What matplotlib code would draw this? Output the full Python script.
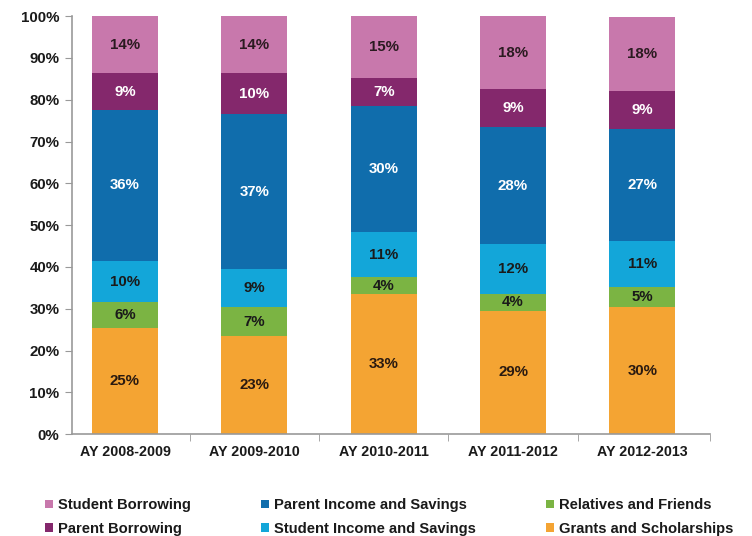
import matplotlib
matplotlib.use("Agg")
import matplotlib.pyplot as plt
from matplotlib.patches import Patch
import numpy as np

plt.rcParams['font.family'] = ['Liberation Sans', 'DejaVu Sans']

years = ["AY 2008-2009", "AY 2009-2010", "AY 2010-2011", "AY 2011-2012", "AY 2012-2013"]

# stacked from bottom to top
series_names = ["Grants and Scholarships", "Relatives and Friends", "Student Income and Savings",
                "Parent Income and Savings", "Parent Borrowing", "Student Borrowing"]
grants      = [25.5, 23.4, 33.5, 29.5, 30.3]
relatives   = [6.0, 6.9, 4.0, 4.0, 5.0]
student_inc = [10.0, 9.2, 10.9, 12.0, 10.9]
parent_inc  = [36.0, 37.0, 30.1, 27.9, 26.8]
parent_bor  = [8.9, 9.9, 6.8, 9.1, 9.0]
student_bor = [13.6, 13.6, 14.7, 17.5, 17.7]

lbl_grants      = ["25%", "23%", "33%", "29%", "30%"]
lbl_relatives   = ["6%", "7%", "4%", "4%", "5%"]
lbl_student_inc = ["10%", "9%", "11%", "12%", "11%"]
lbl_parent_inc  = ["36%", "37%", "30%", "28%", "27%"]
lbl_parent_bor  = ["9%", "10%", "7%", "9%", "9%"]
lbl_student_bor = ["14%", "14%", "15%", "18%", "18%"]

series = [grants, relatives, student_inc, parent_inc, parent_bor, student_bor]
labels = [lbl_grants, lbl_relatives, lbl_student_inc, lbl_parent_inc, lbl_parent_bor, lbl_student_bor]
colors = ["#F4A433", "#7BB443", "#13A6D9", "#106DAC", "#84286C", "#C878AC"]
text_colors = ["#2a1a10", "#1a1a1a", "#1a1a1a", "white", "white", "#2a1a20"]

fig = plt.figure(figsize=(7.52, 5.36), dpi=100)
ax = fig.add_axes([0.0957, 0.190, 0.848, 0.780])

x = np.arange(len(years))
bottom = np.zeros(len(years))
for vals, lbls, c, tc in zip(series, labels, colors, text_colors):
    vals = np.array(vals)
    ax.bar(x, vals, bottom=bottom, width=0.51, color=c, edgecolor='none')
    for xi, b, v, l in zip(x, bottom, vals, lbls):
        ax.text(xi, b + v / 2, l, ha='center', va='center', fontsize=10.8,
                fontweight='bold', color=tc)
    bottom += vals

ax.set_xlim(-0.41, len(years) - 0.48)
ax.set_ylim(0, 100)
ax.set_yticks(np.arange(0, 101, 10))
ax.set_yticklabels([f"{v}%" for v in range(0, 101, 10)], fontsize=10.8, fontweight='bold', color='#1a1a1a')
ax.set_xticks(x)
ax.set_xticklabels(years, fontsize=10.3, fontweight='bold', color='#1a1a1a')
ax.set_xticks(np.append(np.arange(0.5, len(years) - 1), len(years) - 0.48), minor=True)
ax.tick_params(axis='x', which='major', length=0, pad=8)
ax.tick_params(axis='x', which='minor', length=5, color='#999999', direction='out')
ax.tick_params(axis='y', length=5, color='#999999', direction='out', pad=4)
for s in ['top', 'right']:
    ax.spines[s].set_visible(False)
for s in ['left', 'bottom']:
    ax.spines[s].set_color('#999999')
    ax.spines[s].set_linewidth(1.2)

legend_order = [5, 4, 3, 2, 1, 0]
handles = [Patch(facecolor=colors[i], edgecolor='none', label=series_names[i]) for i in legend_order]
fig.legend(handles=handles, ncol=3, loc='center left', bbox_to_anchor=(45 / 752, 1 - 517 / 536),
           frameon=False, handlelength=0.55, handleheight=0.55, borderpad=0, borderaxespad=0,
           handletextpad=0.35, columnspacing=4.75, labelspacing=0.65,
           prop={'size': 10.6, 'weight': 'bold'}, labelcolor='#1a1a1a')

fig.savefig("out.png", dpi=100)
